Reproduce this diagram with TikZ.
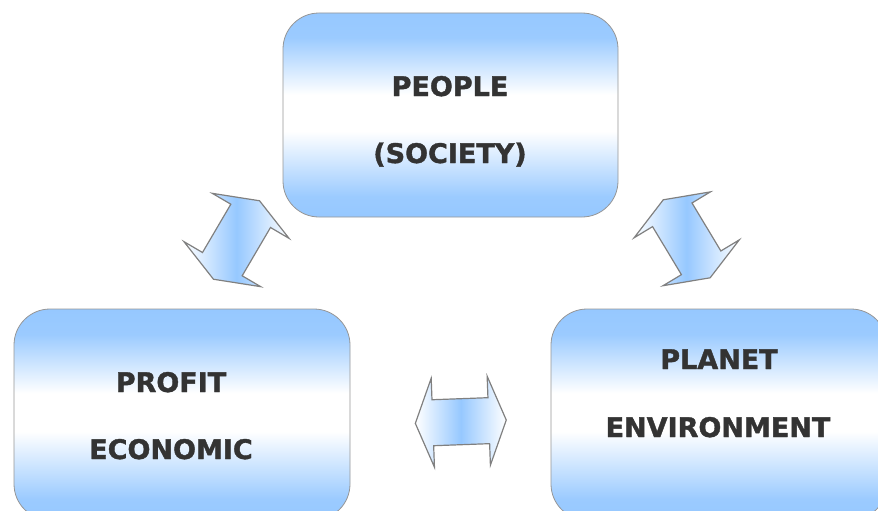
\documentclass[tikz,border=0pt]{standalone}
\usepackage{fontspec}
\setmainfont{DejaVu Sans}
\newfontfamily\boxfont{DejaVu Sans Bold}[FakeBold=1.4]
\usepackage{tikz}
\usetikzlibrary{calc}
\definecolor{boxblue}{RGB}{150,200,255}
\definecolor{edgegray}{RGB}{150,150,150}
\definecolor{textgray}{RGB}{51,51,51}
\pgfdeclareverticalshading{boxshade}{100bp}{color(0bp)=(boxblue); color(25bp)=(boxblue); color(30bp)=(boxblue!95!white); color(46bp)=(white); color(55bp)=(white); color(69bp)=(boxblue!95!white); color(75bp)=(boxblue); color(100bp)=(boxblue)}
\tikzstyle{box} = [draw=edgegray, line width=0.8pt, rounded corners=36pt, shading=boxshade, inner sep=0pt, minimum width=336pt, minimum height=211pt]
\tikzstyle{word} = [text=textgray, font=\fontsize{27}{27}\selectfont\boxfont, anchor=base, inner sep=0pt]
\tikzstyle{arrowbody} = [draw=edgegray!85!black, line width=1.2pt, left color=white, right color=white, middle color=boxblue]

% double block arrow: name, centre, angle of its axis
\newcommand{\blockarrow}[3]{%
  \coordinate (#1) at #2;
  \path[arrowbody] ($(#1)+(#3:45.5)$)
    -- ($(#1)+(#3:28)+(#3-90:44.5)$)
    -- ($(#1)+(#3:28)+(#3-90:23)$)
    -- ($(#1)+(#3+180:28)+(#3-90:23)$)
    -- ($(#1)+(#3+180:28)+(#3-90:44.5)$)
    -- ($(#1)+(#3+180:45.5)$)
    -- ($(#1)+(#3+180:28)+(#3+90:44.5)$)
    -- ($(#1)+(#3+180:28)+(#3+90:23)$)
    -- ($(#1)+(#3:28)+(#3+90:23)$)
    -- ($(#1)+(#3:28)+(#3+90:44.5)$)
    -- cycle;}

\begin{document}
\begin{tikzpicture}[x=1pt, y=1pt]
      \useasboundingbox (0,-511) rectangle (878,0);
      \clip (0,-511) rectangle (878,0);

      \node (people) at (450.5,-115) [box, minimum width=335pt, minimum height=204pt] {};
      \node (profit) at (182,-414.5) [box] {};
      \node (planet) at (719,-414.5) [box] {};

      \node (peopleA) at (450,-96) [word] {PEOPLE};
      \node (peopleB) at (450,-163) [word] {(SOCIETY)};
      \node (profitA) at (171,-392) [word] {PROFIT};
      \node (profitB) at (171,-459) [word] {ECONOMIC};
      \node (planetA) at (719,-369) [word] {PLANET};
      \node (planetB) at (718,-437) [word] {ENVIRONMENT};

      \blockarrow{peopleprofit}{(236.5,-240)}{59.6}
      \blockarrow{peopleplanet}{(686.7,-238.8)}{121}
      \blockarrow{profitplanet}{(460.8,-421.7)}{2.1}
    \end{tikzpicture}
\end{document}
